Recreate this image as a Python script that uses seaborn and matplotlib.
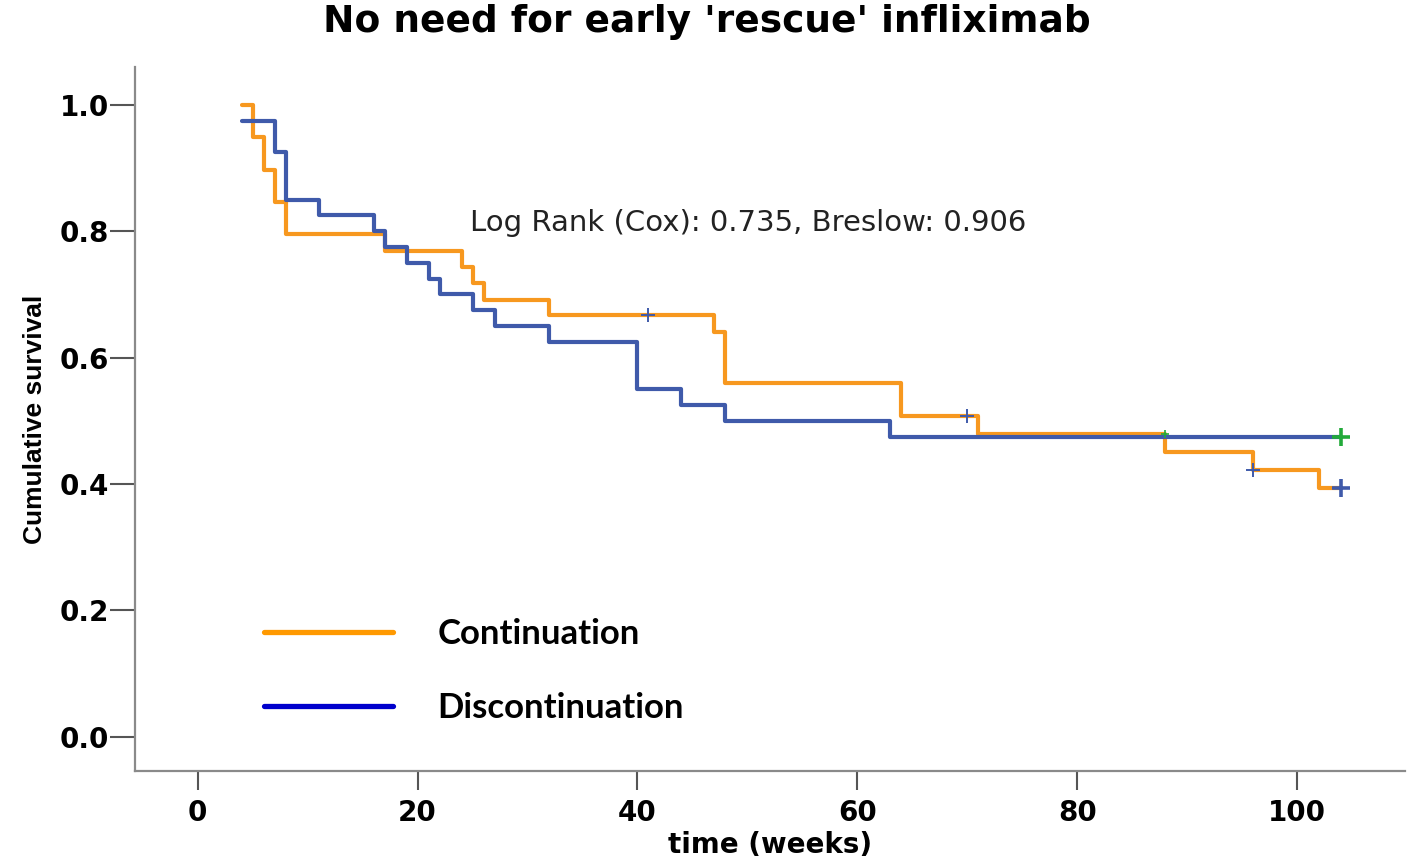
import matplotlib
matplotlib.use("Agg")
import matplotlib.pyplot as plt
from matplotlib import font_manager as fm
from matplotlib.lines import Line2D
import seaborn as sns
import pandas as pd

# Kaplan-Meier step values per group (time in weeks, cumulative survival)
groups = ["Continuation", "Discontinuation"]
cont_time = [4, 5, 6, 7, 8, 17, 24, 25, 26, 32, 47, 48, 64, 71, 88, 96, 102, 104]
cont_surv = [1.0, 0.949, 0.897, 0.846, 0.795, 0.769, 0.744, 0.718, 0.692, 0.667,
             0.640, 0.560, 0.507, 0.479, 0.451, 0.423, 0.393, 0.393]
disc_time = [4, 7, 8, 11, 16, 17, 19, 21, 22, 25, 27, 32, 40, 44, 48, 63, 104]
disc_surv = [0.975, 0.925, 0.85, 0.825, 0.8, 0.775, 0.75, 0.725, 0.70, 0.675,
             0.65, 0.625, 0.55, 0.525, 0.50, 0.475, 0.475]

# Censored observations
cens_a_time = [41, 70, 96]
cens_a_surv = [0.667, 0.507, 0.423]
cens_end_time = [104, 104]
cens_end_surv = [0.393, 0.475]
cens_end_group = ["Continuation", "Discontinuation"]
cens_b_time = [88]
cens_b_surv = [0.479]

x_ticks = [0, 20, 40, 60, 80, 100]
y_ticks = [0.0, 0.2, 0.4, 0.6, 0.8, 1.0]

title = "No need for early 'rescue' infliximab"
stats_note = "Log Rank (Cox): 0.735, Breslow: 0.906"

curve_colors = {"Continuation": "#F7981F", "Discontinuation": "#3F5AAA"}
legend_colors = {"Continuation": "#FF9900", "Discontinuation": "#0000CC"}
censor_blue = "#3F5AAA"
censor_green = "#22AA3A"

sns.set_theme(style="white")
plt.rcParams["font.family"] = ["DejaVu Sans"]
plt.rcParams["text.color"] = "black"

names = {f.name for f in fm.fontManager.ttflist}
if "Liberation Sans Narrow" in names:
    ylab_font = dict(family="Liberation Sans Narrow", weight="bold", size=23)
else:
    ylab_font = dict(family="Liberation Sans", weight="bold", size=19)
legend_family = "Lato" if "Lato" in names else "DejaVu Sans"

df = pd.DataFrame({
    "time": cont_time + disc_time,
    "surv": cont_surv + disc_surv,
    "group": [groups[0]] * len(cont_time) + [groups[1]] * len(disc_time),
})

fig = plt.figure(figsize=(14.14, 8.58), dpi=100)
ax = fig.add_axes([0.0955, 0.1014, 0.898, 0.8206])

sns.lineplot(data=df, x="time", y="surv", hue="group", hue_order=groups,
             palette=curve_colors, estimator=None, drawstyle="steps-post",
             linewidth=3.0, legend=False, ax=ax, zorder=3)

# censor marks
sns.scatterplot(x=cens_a_time, y=cens_a_surv, marker="+", s=90, color=censor_blue,
                linewidth=1.4, ax=ax, zorder=5, legend=False)
sns.scatterplot(x=cens_b_time, y=cens_b_surv, marker="+", s=30, color=censor_green,
                linewidth=1.2, ax=ax, zorder=5, legend=False)
end_colors = {"Continuation": censor_blue, "Discontinuation": censor_green}
for t, s_, g in zip(cens_end_time, cens_end_surv, cens_end_group):
    sns.scatterplot(x=[t], y=[s_], marker="+", s=150, color=end_colors[g],
                    linewidth=2.6, ax=ax, zorder=6, legend=False)

ax.set_xlim(-5.7, 109.8)
ax.set_ylim(-0.054, 1.06)
ax.set_xticks(x_ticks)
ax.set_yticks(y_ticks)
ax.set_yticklabels([f"{v:.1f}" for v in y_ticks])
ax.set_xticklabels([str(v) for v in x_ticks])

for side in ["top", "right"]:
    ax.spines[side].set_visible(False)
for side in ["left", "bottom"]:
    ax.spines[side].set_color("#8a8a8a")
    ax.spines[side].set_linewidth(1.6)

ax.tick_params(axis="y", left=True, direction="out", length=18, width=1.5,
               color="#555555", pad=1, labelsize=20, labelcolor="black")
ax.tick_params(axis="x", bottom=True, direction="out", length=14, width=1.5,
               color="#555555", pad=6, labelsize=20, labelcolor="black")
for lab in ax.get_xticklabels() + ax.get_yticklabels():
    lab.set_fontweight("bold")

ax.set_xlabel("time (weeks)", fontsize=20, fontweight="bold", color="black")
ax.xaxis.set_label_coords(0.5, -0.085)
ax.xaxis.label.set_va("top")
ax.set_ylabel("Cumulative survival", color="black", fontdict=ylab_font)
ax.yaxis.set_label_coords(-0.069, 0.5)

ax.text(24.75, 0.813, stats_note, fontsize=21, color="#222222", va="center", ha="left")

handles = [Line2D([0], [0], color=legend_colors[g], linewidth=3.8) for g in groups]
leg = ax.legend(handles, groups, loc="upper left", bbox_to_anchor=(0.1016, 0.217),
                frameon=False, borderpad=0, borderaxespad=0, handlelength=3.7,
                handletextpad=1.3, labelspacing=1.2,
                prop=dict(family=legend_family, weight="bold", size=25))
for txt in leg.get_texts():
    txt.set_color("black")

fig.text(0.5, 0.974, title, ha="center", va="center", fontsize=27,
         fontweight="bold", color="black")

fig.savefig("out.png", dpi=100, facecolor="white")
